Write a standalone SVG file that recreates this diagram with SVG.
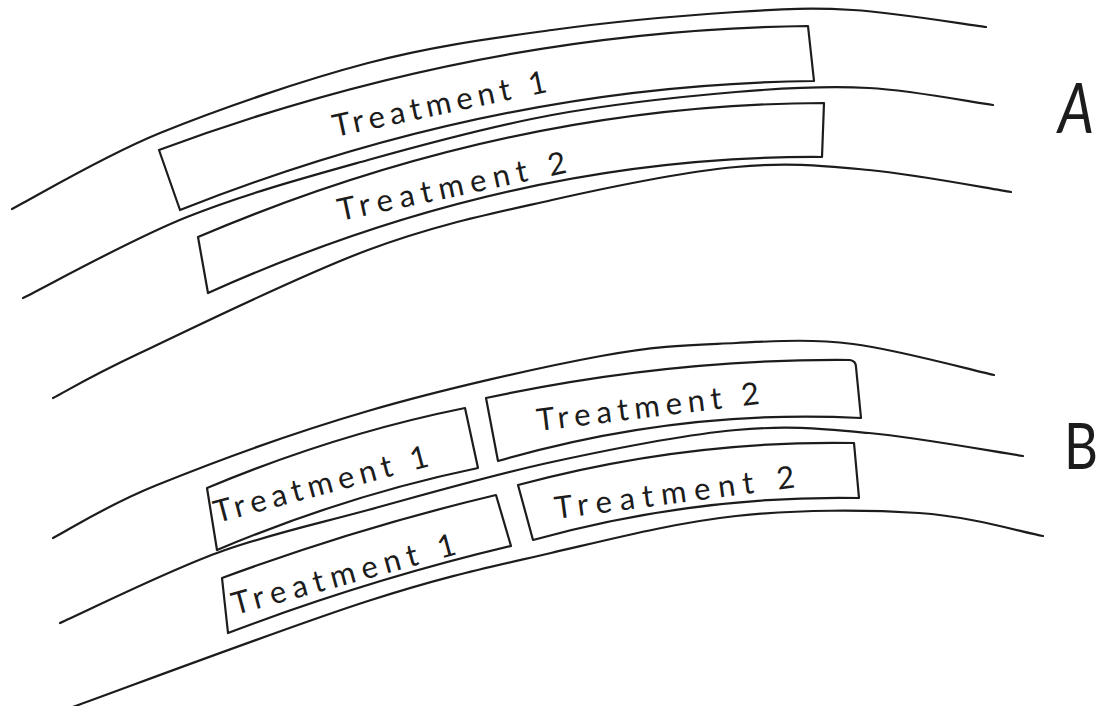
<svg xmlns="http://www.w3.org/2000/svg" width="1104" height="706" viewBox="0 0 1104 706">
<style>
.ln{fill:none;stroke:#1c1c1c;stroke-width:2.2;stroke-linecap:round;stroke-linejoin:round}
.bx{fill:none;stroke:#1c1c1c;stroke-width:2.2;stroke-linejoin:round}
.tx{font-family:Lato,"Liberation Sans",sans-serif;font-weight:400;font-size:31px;fill:#1c1c1c}
.lb{font-family:Lato,"Liberation Sans",sans-serif;font-weight:400;fill:#1c1c1c}
</style>
<rect width="1104" height="706" fill="#fff"/>
<g id="strips">
<path class="ln" d="M12,209 C36.7,196.3 100.7,157.3 160,133 C219.3,108.7 302.7,80.2 368,63 C433.3,45.8 490.7,38.5 552,30 C613.3,21.5 685.8,15.3 736,12 C786.2,8.7 811.3,7.5 853,10 C894.7,12.5 963.8,24.2 986,27"/>
<path class="ln" d="M23,298 C50.3,284.5 129.5,240 187,217 C244.5,194 307.2,177 368,160 C428.8,143 490.7,126.3 552,115 C613.3,103.7 683.2,96.5 736,92 C788.8,87.5 826.2,85.8 869,88 C911.8,90.2 972.3,102.2 993,105"/>
<path class="ln" d="M53,398 C67.5,390.5 87.5,377.7 140,353 C192.5,328.3 299.3,275.5 368,250 C436.7,224.5 490.7,213.8 552,200 C613.3,186.2 683.2,172 736,167 C788.8,162 823.2,165.8 869,170 C914.8,174.2 987.3,188.3 1011,192"/>
<path class="ln" d="M53,538 C70.3,529.2 104.5,506.2 157,485 C209.5,463.8 294,432.5 368,411 C442,389.5 539.7,367.3 601,356 C662.3,344.7 694,345 736,343 C778,341 810,338.7 853,344 C896,349.3 970.5,369.8 994,375"/>
<path class="ln" d="M60,623 C86.2,611.3 165.7,571.8 217,553 C268.3,534.2 312.2,525.2 368,510 C423.8,494.8 490.7,475.3 552,462 C613.3,448.7 683.2,434.8 736,430 C788.8,425.2 821.2,428.7 869,433 C916.8,437.3 997.3,452.2 1023,456"/>
<path class="ln" d="M70,708 C119.7,690.2 287.8,626.8 368,601 C448.2,575.2 489.7,567.2 551,553 C612.3,538.8 674.7,522.7 736,516 C797.3,509.3 867.8,509.7 919,513 C970.2,516.3 1022.3,532.2 1043,536"/>
</g>
<g id="a-treatment-1">
<path class="bx" d="M159,150 Q482.5,30 808,26 L814,81 Q497,84.5 180,210 Z"/>
<text class="tx" x="335" y="137" transform="rotate(-12 335 137)" textLength="218" lengthAdjust="spacing">Treatment 1</text>
</g>
<g id="a-treatment-2">
<path class="bx" d="M198,237 Q511,104 824,103 L822,157 Q515,155 208,293 Z"/>
<text class="tx" x="340" y="221" transform="rotate(-12 340 221)" textLength="233" lengthAdjust="spacing">Treatment  2</text>
</g>
<g id="b-upper-treatment-1">
<path class="bx" d="M207,488 Q336,434 465,408 L478,468 Q347.5,495 217,550 Z"/>
<text class="tx" x="217" y="523" transform="rotate(-15 217 523)" textLength="221" lengthAdjust="spacing">Treatment 1</text>
</g>
<g id="b-upper-treatment-2">
<path class="bx" d="M486,398 Q671,358.5 850,360 Q856,361 856,367 L861,418 Q679.5,408.5 498,461 Z"/>
<text class="tx" x="538" y="431" transform="rotate(-7 538 431)" textLength="224" lengthAdjust="spacing">Treatment 2</text>
</g>
<g id="b-lower-treatment-1">
<path class="bx" d="M222,578 Q359,527.5 496,495 L511,546 Q369.5,579.5 228,633 Z"/>
<text class="tx" x="235" y="615" transform="rotate(-15.3 235 615)" textLength="231" lengthAdjust="spacing">Treatment 1</text>
</g>
<g id="b-lower-treatment-2">
<path class="bx" d="M518,485 Q686,440 854,443 L859,498 Q696,495 533,540 Z"/>
<text class="tx" x="556" y="519" transform="rotate(-7.5 556 519)" textLength="242" lengthAdjust="spacing">Treatment  2</text>
</g>
<g id="label-a">
<text class="lb" x="1058" y="133" font-size="70" font-style="italic" textLength="36" lengthAdjust="spacingAndGlyphs">A</text>
</g>
<g id="label-b">
<text class="lb" x="1064" y="469" font-size="64" textLength="34" lengthAdjust="spacingAndGlyphs">B</text>
</g>
</svg>
